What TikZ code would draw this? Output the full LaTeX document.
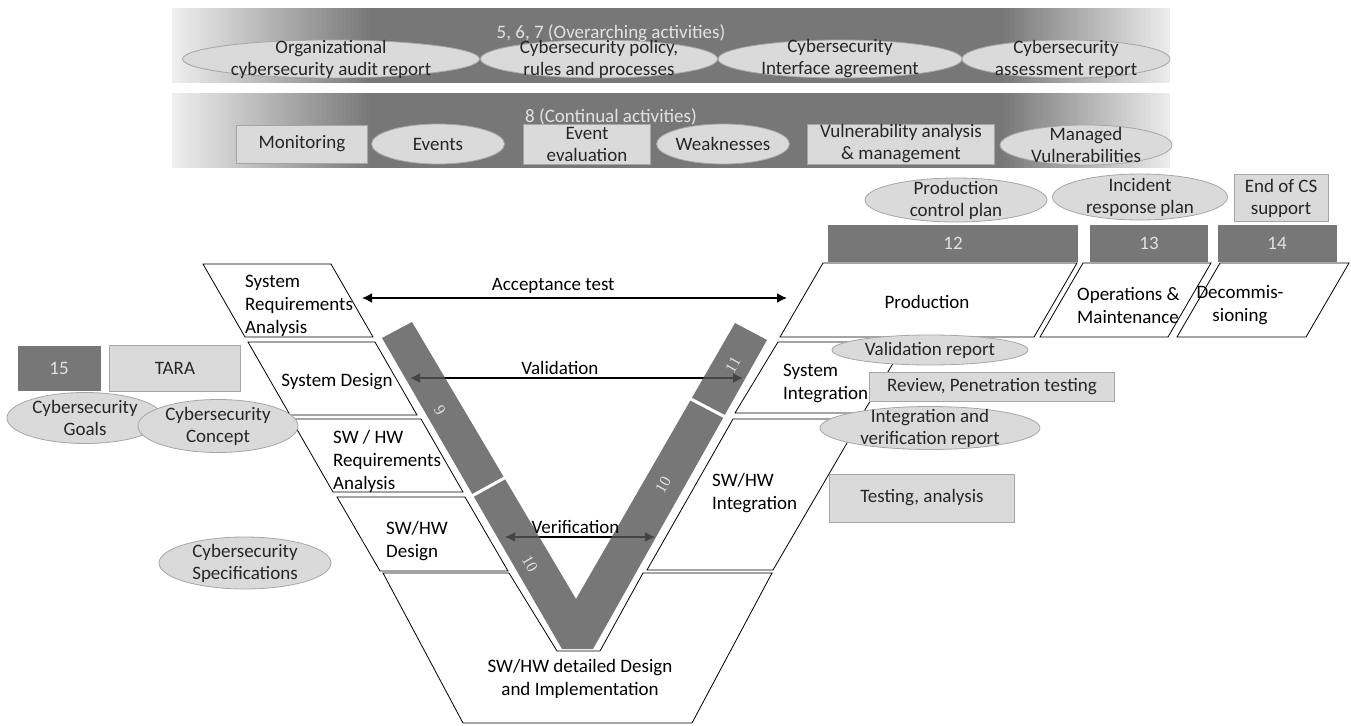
\documentclass[tikz,border=0pt]{standalone}
\usepackage{fontspec}
\setmainfont{Carlito}
\newfontfamily\numfont{Liberation Serif}
\usetikzlibrary{shapes.geometric,arrows.meta}

\definecolor{bandgray}{HTML}{777777}
\definecolor{bandlight}{HTML}{EEEEEE}
\definecolor{vdark}{HTML}{555555}
\definecolor{ellfill}{HTML}{DADADA}
\definecolor{ellline}{HTML}{A6A6A6}
\definecolor{numtext}{HTML}{E2E2E2}

\tikzset{
  every node/.style={font=\fontsize{19}{22}\selectfont},
  etext/.style={align=center, inner sep=0pt, text=black!85},
  ell/.style n args={3}{ellipse, draw=ellline, fill=ellfill, line width=0.8pt,
    minimum width=#1, minimum height=#2, inner sep=0pt, label={[etext]center:{#3}}},
  gbox/.style 2 args={draw=ellline, fill=ellfill, line width=0.8pt, inner sep=0pt,
    minimum width=#1, minimum height=#2, align=center, text=black!85},
  dbox/.style 2 args={fill=bandgray, inner sep=0pt, minimum width=#1,
    minimum height=#2, text=numtext},
  bandtitle/.style={text=numtext, inner sep=0pt},
  para/.style={draw, fill=white, line width=0.8pt},
  phase/.style={align=left, inner sep=0pt, font=\fontsize{19}{23}\selectfont},
  dbl/.style={{Latex[length=10pt,width=10pt]}-{Latex[length=10pt,width=10pt]}, line width=1.6pt},
  vnum/.style={font=\numfont\fontsize{16}{16}\selectfont, text=numtext, inner sep=0pt},
}

\begin{document}
\begin{tikzpicture}[x=1pt,y=-1pt]
    \useasboundingbox (0,0) rectangle (1351,725);
    % overarching and continual bands, faded at both ends
    \foreach \t/\b in {8/83,93/168}{
        \foreach \i in {0,...,49}{
            \pgfmathsetmacro\p{2*\i}
            \pgfmathsetmacro\q{100-2*\i}
            \fill[bandgray!\p!bandlight] (172+\i*3.96,\t) rectangle (176.5+\i*3.96,\b);
            \fill[bandgray!\q!bandlight] (1000+\i*3.4,\t) rectangle ({min(1170,1004+\i*3.4)},\b);
        }
        \fill[bandgray] (370,\t) rectangle (1001,\b);
    }
    \node[bandtitle] (over) at (611,33) {5, 6, 7 (Overarching activities)};
    \node[ell={297pt}{38pt}{Organizational\\cybersecurity audit report}] (audit) at (331,59) {};
    \node[ell={237pt}{38pt}{Cybersecurity policy,\\rules and processes}] (policy) at (599,59) {};
    \node[ell={244pt}{38pt}{Cybersecurity\\Interface agreement}] (iface) at (840,59) {};
    \node[ell={208pt}{38pt}{Cybersecurity\\assessment report}] (assess) at (1066,59) {};

    \node[bandtitle] (cont) at (611,117) {8 (Continual activities)};
    \node[gbox={131pt}{38pt}] (monitor) at (302,144) {Monitoring};
    \node[ell={133pt}{40pt}{Events}] (events) at (438,144) {};
    \node[gbox={127pt}{40pt}] (evaleval) at (587,144) {Event\\evaluation};
    \node[ell={133pt}{40pt}{Weaknesses}] (weak) at (723,144) {};
    \node[gbox={187pt}{40pt}] (vuln) at (901,144) {Vulnerability analysis\\\& management};
    \node[ell={172pt}{40pt}{Managed\\Vulnerabilities}] (managed) at (1086,145) {};

    % post development
    \node[ell={182pt}{44pt}{Production\\control plan}] (pcp) at (956,200) {};
    \node[ell={175pt}{46pt}{Incident\\response plan}] (irp) at (1140,197) {};
    \node[gbox={94pt}{47pt}] (eocs) at (1281,198) {End of CS\\support};
    \node[dbox={250pt}{37pt}] (c12) at (953,243) {12};
    \node[dbox={118pt}{37pt}] (c13) at (1149,243) {13};
    \node[dbox={119pt}{37pt}] (c14) at (1277,243) {14};

    % left side of the V
    \draw[para] (203,264) -- (331,264) -- (373,337) -- (245,337) -- cycle;
    \draw[para] (248,342) -- (375,342) -- (417,415) -- (290,415) -- cycle;
    \draw[para] (291,419) -- (421,419) -- (463,492) -- (333,492) -- cycle;
    \draw[para] (337,497) -- (465,497) -- (508,571) -- (380,571) -- cycle;
    \draw[para] (383,573) -- (509,573) -- (557,651) -- (600,651) -- (643,573)
        -- (772,573) -- (692,723) -- (463,723) -- cycle;
    % right side of the V
    \draw[para] (733,419) -- (861,419) -- (773,570) -- (647,570) -- cycle;
    \draw[para] (778,342) -- (906,342) -- (863,413) -- (735,413) -- cycle;
    \draw[para] (823,263) -- (1077,263) -- (1034,337) -- (780,337) -- cycle;
    \draw[para] (1083,263) -- (1211,263) -- (1168,337) -- (1040,337) -- cycle;
    \draw[para] (1220,263) -- (1349,263) -- (1306,337) -- (1177,337) -- cycle;

    \coordinate (acc-l) at (362,298);
    \coordinate (acc-r) at (787,298);
    \coordinate (val-l) at (410,378);
    \coordinate (val-r) at (743,378);
    \coordinate (ver-l) at (505,537);
    \coordinate (ver-r) at (655,537);
    \draw[dbl] (acc-l) -- node[above, pos=0.45] (acc) {Acceptance test} (acc-r);
    \draw[dbl] (val-l) -- (val-r);
    \draw[dbl] (ver-l) -- (ver-r);

    % the V band
    \fill[vdark, opacity=0.8] (382,338) -- (412,322) -- (576,599) -- (735,323)
        -- (767,340) -- (593,649) -- (562,649) -- cycle;
    \draw[white, line width=3pt] (470,497) -- (508,476);
    \draw[white, line width=3pt] (687,397) -- (729,419);
    \node[vnum, rotate=-60] (n9) at (440,410) {9};
    \node[vnum, rotate=-60] (n10l) at (530,564) {10};
    \node[vnum, rotate=60] (n10r) at (663,485) {10};
    \node[vnum, rotate=60] (n11) at (733,365) {11};
    \path (val-l) -- node[above, pos=0.45] (val) {Validation} (val-r);
    \path (ver-l) -- node[above, pos=0.47] (ver) {Verification} (ver-r);

    \node[phase, anchor=west] (sra) at (245,306) {System\\Requirements\\Analysis};
    \node[phase] (sd) at (337,382) {System Design};
    \node[phase, anchor=west] (swr) at (333,461) {SW / HW\\Requirements\\Analysis};
    \node[phase, anchor=west] (swd) at (386,541) {SW/HW\\Design};
    \node[phase, align=center] (impl) at (580,679) {SW/HW detailed Design\\and Implementation};
    \node[phase, anchor=west] (swint) at (712,493) {SW/HW\\Integration};
    \node[phase, anchor=west] (sysint) at (783,383) {System\\Integration};
    \node[phase] (prod) at (927,302) {Production};
    \node[phase, anchor=west] (om) at (1077,305) {Operations \&\\Maintenance};
    \node[phase, align=center] (decom) at (1240,305) {Decommis-\\sioning};

    % work products around the V
    \node[dbox={83pt}{45pt}] (c15) at (59,368) {15};
    \node[gbox={131pt}{46pt}] (tara) at (175,368) {TARA};
    \node[ell={156pt}{51pt}{Cybersecurity\\Goals}] (goals) at (85,418) {};
    \node[ell={160pt}{53pt}{Cybersecurity\\Concept}] (concept) at (218,426) {};
    \node[ell={172pt}{52pt}{Cybersecurity\\Specifications}] (specs) at (245,563) {};
    \node[ell={196pt}{30pt}{Validation report}] (valrep) at (930,350) {};
    \node[gbox={245pt}{29pt}] (review) at (992,387) {Review, Penetration testing};
    \node[ell={220pt}{43pt}{Integration and\\verification report}] (ivr) at (930,428) {};
    \node[gbox={185pt}{48pt}] (testing) at (922,498) {Testing, analysis};
\end{tikzpicture}
\end{document}
